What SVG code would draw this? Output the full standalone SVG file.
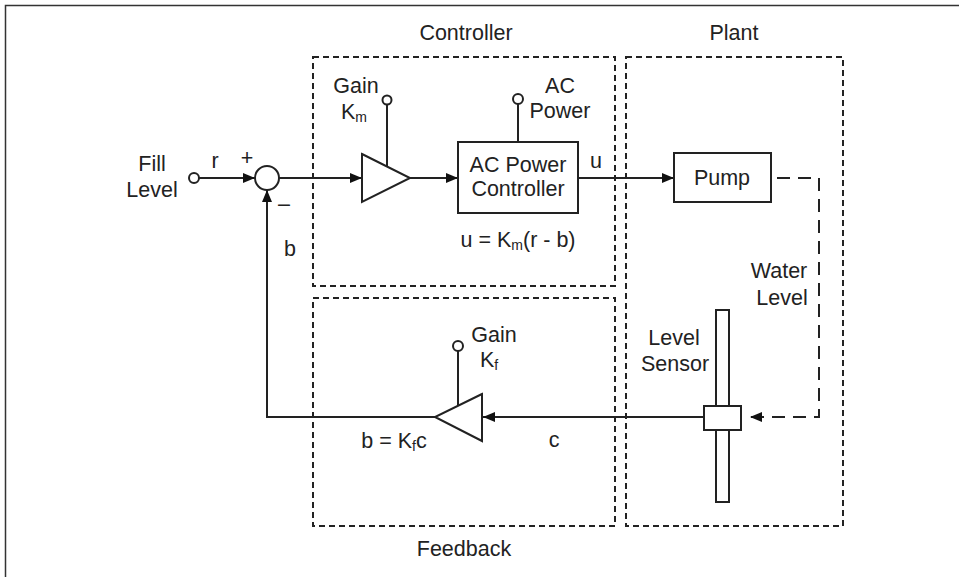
<svg xmlns="http://www.w3.org/2000/svg" width="959" height="577" viewBox="0 0 959 577">
<style>
text{font-family:"Liberation Sans",Arial,sans-serif;font-size:21.5px;fill:#222;text-anchor:middle}
.sub{font-size:14px}
.ln{stroke:#222;stroke-width:2;fill:none}
.blk{stroke:#222;stroke-width:2;fill:#fff}
.grp{stroke:#222;stroke-width:2;fill:none;stroke-dasharray:6 4}
.wl{stroke:#222;stroke-width:2;fill:none;stroke-dasharray:13 8}
.term{stroke:#222;stroke-width:2;fill:#fff}
</style>
<defs>
<marker id="arr" markerWidth="12" markerHeight="10" refX="12" refY="5" orient="auto" markerUnits="userSpaceOnUse">
<path d="M0,0 L12,5 L0,10 Z" fill="#111"/>
</marker>
</defs>
<rect x="0" y="0" width="959" height="577" fill="#fff"/>
<rect x="5.5" y="5.5" width="970" height="590" fill="none" stroke="#333" stroke-width="1.5"/>

<g id="controller-group">
<rect class="grp" x="313" y="57" width="302" height="229"/>
<text x="466" y="40">Controller</text>
</g>
<g id="plant-group">
<rect class="grp" x="626" y="57" width="217" height="469"/>
<text x="734" y="40">Plant</text>
</g>
<g id="feedback-group">
<rect class="grp" x="313" y="298" width="302" height="228"/>
<text x="464" y="556">Feedback</text>
</g>

<g id="connectors">
<line class="ln" x1="199" y1="178" x2="255" y2="178" marker-end="url(#arr)"/>
<line class="ln" x1="279" y1="178" x2="362" y2="178" marker-end="url(#arr)"/>
<line class="ln" x1="410" y1="178" x2="458" y2="178" marker-end="url(#arr)"/>
<line class="ln" x1="578" y1="178" x2="674" y2="178" marker-end="url(#arr)"/>
<polyline class="wl" points="777,178 819,178 819,417 750,417" marker-end="url(#arr)"/>
<line class="ln" x1="704" y1="417" x2="483" y2="417" marker-end="url(#arr)"/>
<polyline class="ln" points="435,417 267,417 267,190" marker-end="url(#arr)"/>
<line class="ln" x1="387" y1="104.5" x2="387" y2="166.5"/>
<line class="ln" x1="518" y1="104" x2="518" y2="142"/>
<line class="ln" x1="458" y1="351" x2="458" y2="406"/>
</g>

<g id="fill-level">
<circle class="term" cx="194" cy="178" r="5"/>
<text x="152" y="171">Fill</text>
<text x="152" y="197">Level</text>
<text x="215" y="168">r</text>
</g>

<g id="sum">
<circle class="term" cx="267" cy="178" r="12"/>
<text x="247" y="165">+</text>
<text x="284" y="211">–</text>
<text x="290" y="256">b</text>
</g>

<g id="gain-km">
<polygon class="blk" points="362,154 410,178 362,202"/>
<circle class="term" cx="387" cy="100" r="4.5"/>
<text x="356" y="93">Gain</text>
<text x="354" y="119">K<tspan class="sub" dy="3">m</tspan></text>
</g>

<g id="ac-power-controller">
<rect class="blk" x="458" y="142" width="120" height="71"/>
<circle class="term" cx="518" cy="99" r="5"/>
<text x="560" y="93">AC</text>
<text x="560" y="118">Power</text>
<text x="518" y="172">AC Power</text>
<text x="518" y="196">Controller</text>
<text x="596" y="168">u</text>
<text x="518" y="247">u = K<tspan class="sub" dy="3">m</tspan><tspan dy="-3">(r - b)</tspan></text>
</g>

<g id="pump">
<rect class="blk" x="674" y="153" width="97" height="49"/>
<text x="722" y="185">Pump</text>
</g>

<g id="water-level">
<text x="779" y="278">Water</text>
<text x="782" y="305">Level</text>
</g>

<g id="level-sensor">
<rect class="blk" x="716" y="310" width="13" height="192"/>
<rect class="blk" x="704" y="406" width="37" height="24"/>
<text x="674" y="345">Level</text>
<text x="675" y="371">Sensor</text>
<text x="554" y="447">c</text>
</g>

<g id="gain-kf">
<polygon class="blk" points="482,394 435,417 482,441"/>
<circle class="term" cx="458" cy="346" r="5"/>
<text x="494" y="342">Gain</text>
<text x="489" y="367">K<tspan class="sub" dy="3">f</tspan></text>
<text x="394" y="448">b = K<tspan class="sub" dy="3">f</tspan><tspan dy="-3">c</tspan></text>
</g>
</svg>
